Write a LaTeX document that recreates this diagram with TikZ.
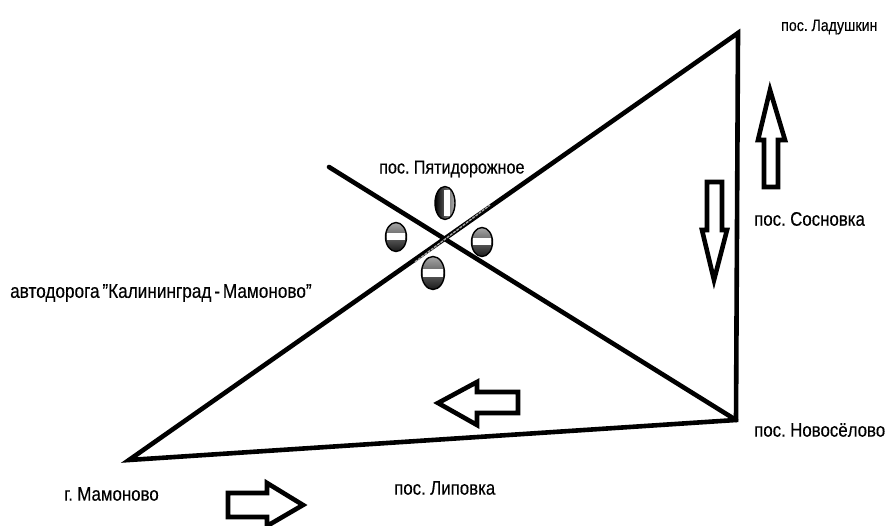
\documentclass[tikz,border=0pt]{standalone}
\usepackage{fontspec}
\setmainfont{Liberation Sans}[FakeStretch=0.86,FakeBold=0.3,WordSpace=0.6]
\usetikzlibrary{shapes.geometric}
\tikzset{
    road/.style={line width=4.6pt,line cap=round},
    flow/.style={line width=4.6pt,line join=miter,fill=white},
    place/.style={inner sep=0pt,font=\fontsize{19.6}{19.6}\selectfont},
    sign/.style={ellipse,inner sep=0pt,draw=black,line width=1.4pt,top color=gray!70,bottom color=black!90},
    bar/.style={fill=white,inner sep=0pt},
}
\begin{document}
\begin{tikzpicture}[x=1pt,y=-1pt]
    \path[use as bounding box] (0,0) rectangle (890,526);
    \coordinate (Ladushkin) at (738,33);
    \coordinate (Mamonovo) at (129,460);
    \coordinate (Novoselovo) at (736,420);
    \coordinate (Fork) at (329,167);
    \draw[road] (Mamonovo)--(Ladushkin)--(Novoselovo)--cycle;
    \draw[road] (Fork)--(Novoselovo);
    \coordinate (GrayA) at (415,262);
    \coordinate (GrayB) at (490,205);
    \draw[gray!70,line width=1.4pt,dash pattern=on 3pt off 1pt] (GrayA)--(GrayB);
    % junction signs
    \foreach \Name/\X/\Y/\W/\H in {SignW/396/237/21/29,SignE/482/242/21/29,SignS/433/273/23/33} {
        \node[sign,minimum width=\W pt,minimum height=\H pt] (\Name) at (\X,\Y) {};
        \node[bar,minimum width=\W pt-3pt,minimum height=7pt] at (\Name) {};
    }
    \node[sign,left color=black,right color=gray!60,minimum width=20pt,minimum height=33pt] (SignN) at (445,203) {};
    \node[bar,minimum width=6pt,minimum height=26pt] at (447,203) {};
    % traffic arrows
    \draw[flow] (770,90)--(785,140)--(778,140)--(778,187)--(764,187)--(764,140)--(758,140)--cycle;
    \draw[flow] (714,280)--(727,230)--(722,230)--(722,182)--(707,182)--(707,230)--(702,230)--cycle;
    \draw[flow] (438,403)--(477,382)--(477,392)--(518,392)--(518,413)--(477,413)--(477,425)--cycle;
    \draw[flow] (303,505)--(267,483)--(267,493)--(228,493)--(228,517)--(267,517)--(267,526)--cycle;
    % place names
    \node[place,anchor=west,font=\fontsize{16.5}{16.5}\selectfont] (LabelLadushkin) at (781,27) {пос. Ладушкин};
    \node[place,anchor=west] (LabelSosnovka) at (754,219) {пос. Сосновка};
    \node[place,anchor=west,font=\fontsize{18.8}{18.8}\selectfont] (LabelPyatidorozhnoe) at (379,169) {пос. Пятидорожное};
    \node[place,anchor=west,font=\fontsize{20}{20}\selectfont] (LabelRoad) at (10,293) {автодорога "Калининград - Мамоново"};
    \node[place,anchor=west] (LabelNovoselovo) at (754,430) {пос. Новосёлово};
    \node[place,anchor=west] (LabelMamonovo) at (64,494) {г. Мамоново};
    \node[place,anchor=west] (LabelLipovka) at (394,488) {пос. Липовка};
\end{tikzpicture}
\end{document}
